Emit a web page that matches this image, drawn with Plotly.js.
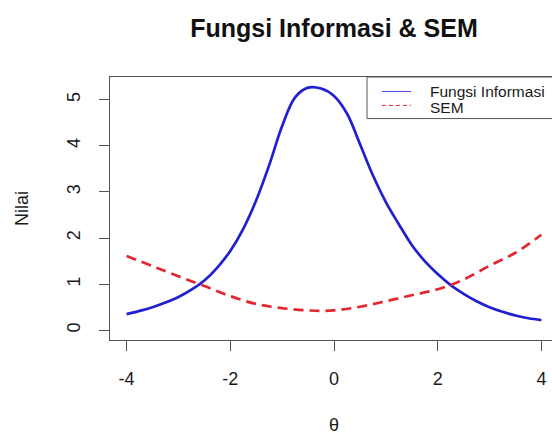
<!DOCTYPE html>
<html>
<head>
<meta charset="utf-8">
<script src="https://cdn.plot.ly/plotly-3.0.1.min.js"></script>
<style>
  html, body { margin: 0; padding: 0; overflow: hidden; background: #fff; }
  #chart { width: 570px; height: 435px; }
</style>
</head>
<body>
<div id="chart"></div>
<script>
// Test information function
const thetaInfo = [-4,-3.75,-3.5,-3.25,-3,-2.75,-2.5,-2.25,-2,-1.75,-1.5,-1.25,-1,-0.75,-0.5,-0.25,0,0.25,0.5,0.75,1,1.25,1.5,1.75,2,2.25,2.5,2.75,3,3.25,3.5,3.75,4];
const infoValues = [0.35,0.42,0.50,0.60,0.72,0.88,1.08,1.36,1.72,2.20,2.82,3.58,4.43,5.05,5.26,5.24,5.08,4.70,4.04,3.36,2.78,2.30,1.85,1.50,1.22,0.98,0.79,0.63,0.50,0.40,0.32,0.26,0.22];

const thetaSem = [-4,-3.5,-3,-2.5,-2,-1.5,-1,-0.5,0,0.5,1,1.5,2,2.5,3,3.5,4];
const semValues = [1.61,1.39,1.17,0.96,0.74,0.57,0.48,0.43,0.43,0.51,0.63,0.76,0.89,1.10,1.40,1.68,2.07];

const xTicks = [-4,-2,0,2,4];
const yTicks = [0,1,2,3,4,5];
const seriesNames = ["Fungsi Informasi", "SEM"];
const chartTitle = "Fungsi Informasi & SEM";
const xTitle = "θ";
const yTitle = "Nilai";

const BLUE = "#2020d0";
const RED = "#e42630";
const AXIS = "#555555";
const TEXT = "#1a1a1a";
const FONT = "Liberation Sans, Arial, Helvetica, sans-serif";

const traces = [
  {
    x: thetaInfo, y: infoValues, type: "scatter", mode: "lines",
    name: seriesNames[0],
    line: { color: BLUE, width: 2.7, shape: "spline", smoothing: 1 },
    hoverinfo: "skip"
  },
  {
    x: thetaSem, y: semValues, type: "scatter", mode: "lines",
    name: seriesNames[1],
    line: { color: RED, width: 2.7, dash: "10px,6px", shape: "spline", smoothing: 1 },
    hoverinfo: "skip"
  }
];

// manual R-style legend (paper coordinates)
const lgX0 = 0.5737, lgY0 = 0.842;
const lineX0 = 0.607, lineX1 = 0.672;
const row1 = 0.945, row2 = 0.892;
const textX = 0.7098;

const layout = {
  width: 570, height: 435,
  margin: { l: 110, r: 12, t: 77, b: 95, pad: 0 },
  paper_bgcolor: "#ffffff", plot_bgcolor: "#ffffff",
  showlegend: false,
  font: { family: FONT, color: TEXT, size: 18 },
  title: {
    text: chartTitle,
    font: { family: FONT, size: 25, color: "#111111", weight: "bold" },
    xref: "paper", x: 0.5, xanchor: "center",
    yref: "container", y: 1 - 28 / 435, yanchor: "middle"
  },
  xaxis: {
    range: [-4.32, 4.32],
    tickmode: "array", tickvals: xTicks, ticktext: xTicks.map(String),
    showgrid: false, zeroline: false,
    showline: true, linecolor: AXIS, linewidth: 1, mirror: true,
    ticks: "outside", ticklen: 10, tickcolor: AXIS, tickwidth: 1,
    ticklabelstandoff: 12,
    tickfont: { family: FONT, size: 18, color: TEXT },
    title: { text: xTitle, font: { family: FONT, size: 18, color: TEXT }, standoff: 40 }
  },
  yaxis: {
    range: [-0.211, 5.491],
    tickmode: "array", tickvals: yTicks, ticktext: yTicks.map(String),
    tickangle: -90,
    showgrid: false, zeroline: false,
    showline: true, linecolor: AXIS, linewidth: 1, mirror: true,
    ticks: "outside", ticklen: 10, tickcolor: AXIS, tickwidth: 1,
    ticklabelstandoff: 12,
    tickfont: { family: FONT, size: 18, color: TEXT },
    title: { text: yTitle, font: { family: FONT, size: 18, color: TEXT }, standoff: 30 }
  },
  shapes: [
    { type: "rect", xref: "paper", yref: "paper", x0: lgX0, x1: 1.0, y0: lgY0, y1: 1.0,
      line: { color: AXIS, width: 1 }, fillcolor: "rgba(255,255,255,1)", layer: "above" },
    { type: "line", xref: "paper", yref: "paper", x0: lineX0, x1: lineX1, y0: row1, y1: row1,
      line: { color: "#4a4ae0", width: 1 } },
    { type: "line", xref: "paper", yref: "paper", x0: lineX0, x1: lineX1, y0: row2, y1: row2,
      line: { color: RED, width: 1, dash: "4px,3px" } }
  ],
  annotations: [
    { xref: "paper", yref: "paper", x: textX, y: row1, xanchor: "left", yanchor: "middle",
      text: seriesNames[0], showarrow: false, font: { family: FONT, size: 15.5, color: TEXT } },
    { xref: "paper", yref: "paper", x: textX, y: row2 - 0.008, xanchor: "left", yanchor: "middle",
      text: seriesNames[1], showarrow: false, font: { family: FONT, size: 15.5, color: TEXT } }
  ]
};

Plotly.newPlot("chart", traces, layout, { displayModeBar: false, staticPlot: true });
</script>
</body>
</html>
